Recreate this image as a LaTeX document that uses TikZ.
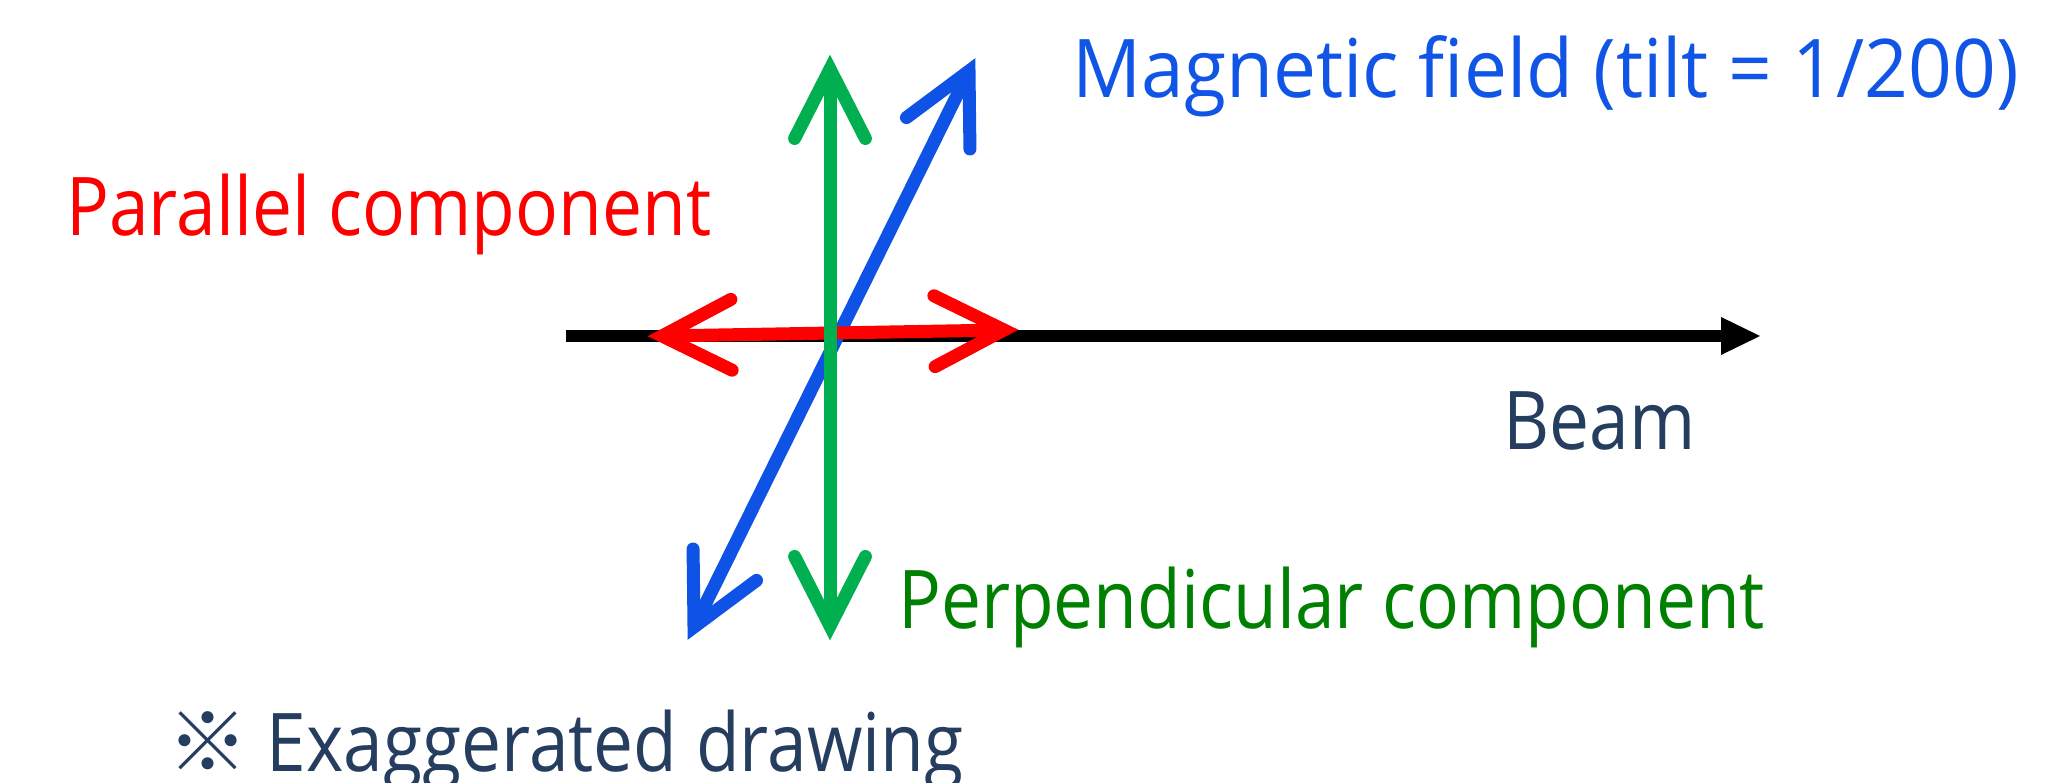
\documentclass[tikz,border=0pt]{standalone}
\usepackage{fontspec}
\setmainfont{Open Sans}[FakeStretch=0.88]
\newfontfamily\cjkfont{Noto Sans CJK KR}
\usetikzlibrary{calc}
\definecolor{bluearrow}{HTML}{0F52E6}
\definecolor{bluetext}{HTML}{1155E6}
\definecolor{greenarrow}{HTML}{00B050}
\definecolor{greentext}{HTML}{008000}
\definecolor{redarrow}{HTML}{FF0000}
\definecolor{navytext}{HTML}{253D5F}
\newcommand\mychevron[3]{%
  \draw[#1, line width=13pt, line join=miter, line cap=round]
    ($(#2)!78pt!27:(#3)$) -- (#2) -- ($(#2)!78pt!-27:(#3)$);}
\newcommand\mydblarrow[3]{%
  \draw[#1, line width=13pt] (#2) -- (#3);
  \mychevron{#1}{#2}{#3}
  \mychevron{#1}{#3}{#2}}
\begin{document}
\begin{tikzpicture}[x=1pt,y=1pt,
  lbl/.style={anchor=base west, inner sep=0pt, font=\fontsize{81}{90}\selectfont}]
\useasboundingbox (0,0) rectangle (2056,782);
\fill[white] (0,0) rectangle (2056,782);
% beam
\coordinate (bs) at (566,446);
\coordinate (bt) at (1760,446);
\coordinate (bb) at (1721,446);
\draw[black, line width=12pt] (bs) -- (bb);
\fill[black] (bt) -- ($(bb)+(0,19)$) -- ($(bb)+(0,-19)$) -- cycle;
% magnetic field (blue)
\coordinate (mt) at (969,711);
\coordinate (mb) at (694,155);
\mydblarrow{bluearrow}{mt}{mb}
% parallel (red)
\coordinate (pl) at (662,446);
\coordinate (pr) at (1004,452);
\mydblarrow{redarrow}{pl}{pr}
% perpendicular (green)
\coordinate (gt) at (830,713);
\coordinate (gb) at (830,156);
\mydblarrow{greenarrow}{gt}{gb}
% labels
\node[lbl, text=redarrow] (tpar) at (66,546) {Parallel component};
\node[lbl, text=bluetext] (tmag) at (1072,684) {\scalebox{1.075}[1]{Magnetic field (tilt = 1/200)}};
\node[lbl, text=navytext] (tbeam) at (1503,332) {Beam};
\node[lbl, text=navytext] (tnote) at (167,11) {{\cjkfont ※} Exaggerated drawing};
\node[lbl, text=greentext] (tperp) at (898,153) {Perpendicular component};
\end{tikzpicture}
\end{document}
